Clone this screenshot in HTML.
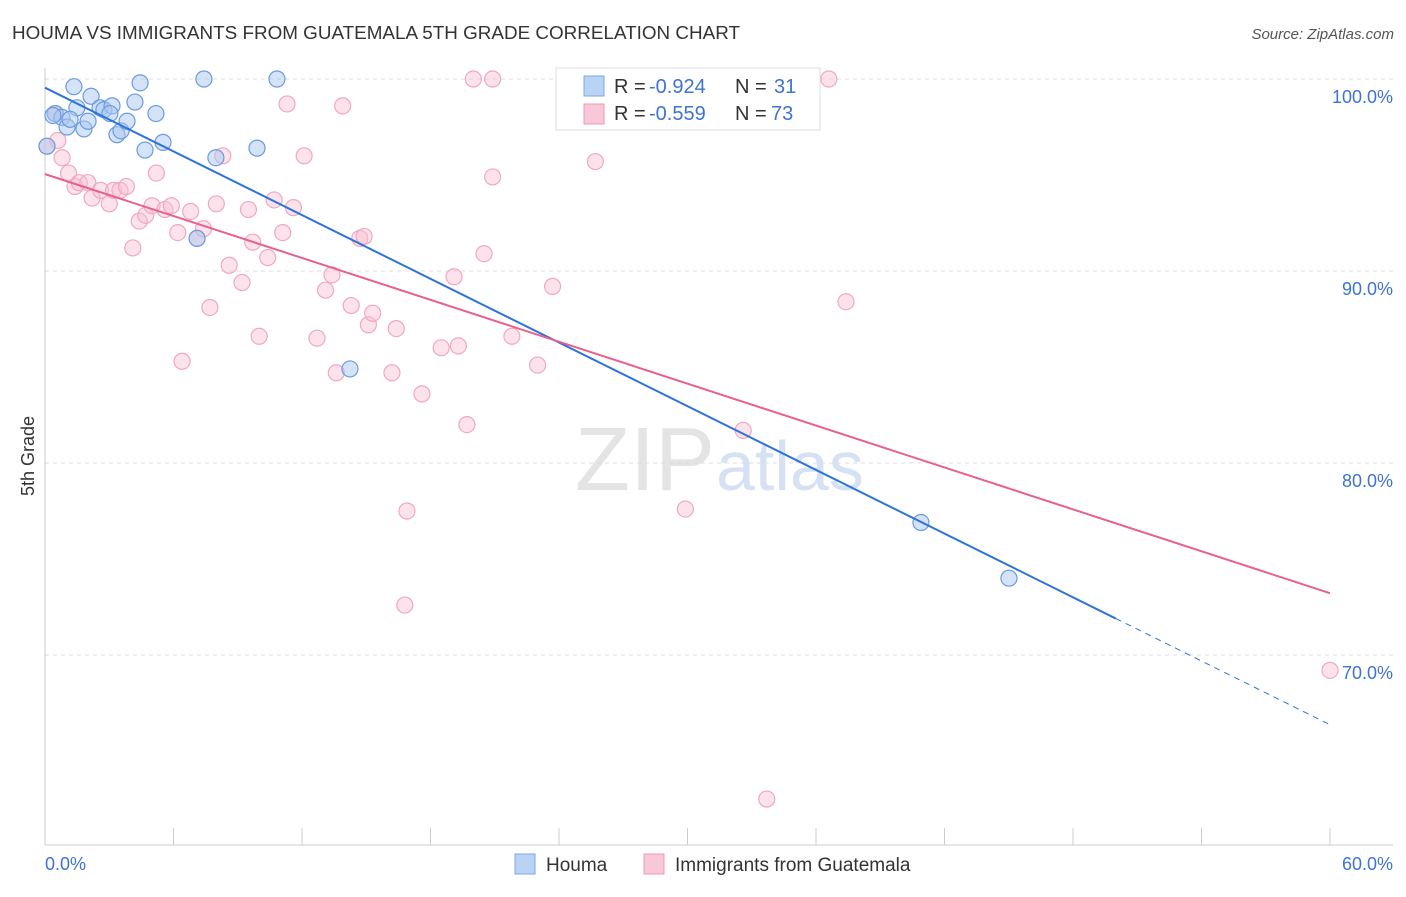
<!DOCTYPE html>
<html><head><meta charset="utf-8"><style>
body{margin:0;background:#fff;font-family:"Liberation Sans",sans-serif;}
svg text{font-family:"Liberation Sans",sans-serif;}
</style></head><body>
<svg width="1406" height="892">
<text x="12" y="39" font-size="18" fill="#333" textLength="728" lengthAdjust="spacingAndGlyphs">HOUMA VS IMMIGRANTS FROM GUATEMALA 5TH GRADE CORRELATION CHART</text>
<text x="1394" y="39" font-size="15" fill="#555" font-style="italic" text-anchor="end">Source: ZipAtlas.com</text>
<text x="715" y="490" font-size="90" fill="#e4e4e4" text-anchor="end" font-family="Liberation Serif">ZIP</text>
<text x="716" y="490" font-size="70" fill="#d6e2f3">atlas</text>
<g id="grid"></g><g id="axes"></g>
<text transform="translate(34,456) rotate(-90)" font-size="18" fill="#333" text-anchor="middle">5th Grade</text>
<g id="marks"></g>
<g>
<rect x="556" y="68" width="264" height="62" fill="#fff" stroke="#ddd"/>
<rect x="584" y="76" width="20" height="20" fill="#b9d3f5" stroke="#7aaae6"/>
<rect x="584" y="104" width="20" height="20" fill="#f9c8d8" stroke="#ee9ab5"/>
<text y="93" font-size="20" fill="#333"><tspan x="614">R =</tspan><tspan x="649" fill="#3d73d1">-0.924</tspan><tspan x="735">N =</tspan><tspan x="774" fill="#3d73d1">31</tspan></text>
<text y="120" font-size="20" fill="#333"><tspan x="614">R =</tspan><tspan x="649" fill="#3d73d1">-0.559</tspan><tspan x="735">N =</tspan><tspan x="771" fill="#3d73d1">73</tspan></text>
</g>
<g>
<rect x="515" y="854" width="20" height="20" fill="#b9d3f5" stroke="#7aaae6"/>
<text x="546" y="871" font-size="19" fill="#333">Houma</text>
<rect x="644" y="854" width="20" height="20" fill="#f9c8d8" stroke="#ee9ab5"/>
<text x="675" y="871" font-size="19" fill="#333">Immigrants from Guatemala</text>
</g>
</svg>
<script>
const xTicks=[0,60];
const yTicks=[100,90,80,70];
const houmaX=[0.09,0.47,0.79,1.03,1.35,1.49,1.82,2.01,2.15,2.57,2.75,3.13,3.03,3.36,3.55,3.83,4.20,4.44,4.67,5.18,5.51,7.42,7.98,9.90,10.83,7.10,14.24,40.90,45.01,0.37,1.17];
const houmaY=[96.5,98.2,98.0,97.5,99.6,98.5,97.4,97.8,99.1,98.5,98.4,98.6,98.2,97.1,97.3,97.8,98.8,99.8,96.3,98.2,96.7,100,95.9,96.4,100,91.7,84.9,76.9,74.0,98.1,97.9];
const guatX=[0.1,0.5,0.6,0.8,1.1,1.4,1.6,2.0,2.2,2.6,3.0,3.2,3.5,3.8,4.1,4.4,4.7,5.0,5.2,5.6,5.9,6.2,6.4,6.8,7.1,7.4,7.7,8.0,8.3,8.6,9.2,9.5,9.7,10.0,10.4,10.7,11.1,11.3,11.6,12.1,12.7,13.1,13.4,13.6,13.9,14.3,14.7,14.9,15.1,15.3,16.2,16.4,16.8,16.9,17.6,18.5,19.1,19.3,19.7,20.0,20.5,20.9,20.9,21.8,23.0,23.7,25.7,29.9,32.6,33.7,36.6,37.4,60.0];
const guatY=[96.5,98.2,96.8,95.9,95.1,94.4,94.6,94.6,93.8,94.2,93.5,94.2,94.2,94.4,91.2,92.6,92.9,93.4,95.1,93.2,93.4,92.0,85.3,93.1,91.7,92.2,88.1,93.5,96.0,90.3,89.4,93.2,91.5,86.6,90.7,93.7,92.0,98.7,93.3,96.0,86.5,89.0,89.8,84.7,98.6,88.2,91.7,91.8,87.2,87.8,84.7,87.0,72.6,77.5,83.6,86.0,89.7,86.1,82.0,100,90.9,94.9,100,86.6,85.1,89.2,95.7,77.6,81.7,62.5,100,88.4,69.2];
const X0=45,X1=1330,Y100=79,PXP=19.2;
const sx=v=>X0+(X1-X0)*v/60, sy=v=>Y100+(100-v)*PXP;
const NS='http://www.w3.org/2000/svg';
function mk(t,a,p){const e=document.createElementNS(NS,t);for(const k in a)e.setAttribute(k,a[k]);document.getElementById(p).appendChild(e);return e;}
yTicks.forEach(v=>{
 const l=mk('line',{x1:X0,x2:1393,y1:sy(v),y2:sy(v),stroke:'#ddd','stroke-dasharray':'4,4'},'grid');
 
 
 const t=mk('text',{x:1393,y:sy(v)+24,'font-size':18,fill:'#3d73d1','text-anchor':'end'},'axes');
 t.textContent=v.toFixed(1)+'%';
 
 
});
mk('line',{x1:X0,x2:X0,y1:68,y2:845,stroke:'#ccc'},'axes');
mk('line',{x1:X0,x2:1393,y1:845,y2:845,stroke:'#ccc'},'axes');
for(let i=0;i<=10;i++){mk('line',{x1:sx(i*6),x2:sx(i*6),y1:828,y2:845,stroke:'#ccc'},'axes');}
xTicks.forEach((v,i)=>{
 const t=mk('text',{x:i?1393:45,y:870,'font-size':18,fill:'#3d73d1','text-anchor':i?'end':'start'},'axes');
 t.textContent=v.toFixed(1)+'%';
 
 
});
guatX.forEach((x,i)=>{
 const c=mk('circle',{cx:sx(x),cy:sy(guatY[i]),r:8,fill:'rgba(249,190,210,0.45)',stroke:'#f0a8c0','stroke-width':1.2},'marks');
 
 
});
houmaX.forEach((x,i)=>{
 const c=mk('circle',{cx:sx(x),cy:sy(houmaY[i]),r:8,fill:'rgba(170,200,240,0.5)',stroke:'#6a9be0','stroke-width':1.2},'marks');
 
 
});
function fit(xs,ys){const n=xs.length,mx=xs.reduce((a,b)=>a+b)/n,my=ys.reduce((a,b)=>a+b)/n;let sxy=0,sxx=0;xs.forEach((x,i)=>{sxy+=(x-mx)*(ys[i]-my);sxx+=(x-mx)**2});const b=sxy/sxx;return [my-b*mx,b];}
const [ha,hb]=fit(houmaX,houmaY),[ga,gb]=fit(guatX,guatY);
let l=mk('line',{x1:sx(0),y1:sy(ha),x2:sx(50),y2:sy(ha+hb*50),stroke:'#2f73d8','stroke-width':2},'marks');


l=mk('line',{x1:sx(50),y1:sy(ha+hb*50),x2:sx(60),y2:sy(ha+hb*60),stroke:'#2f73d8','stroke-width':1,'stroke-dasharray':'6,5'},'marks');


l=mk('line',{x1:sx(0),y1:sy(ga),x2:sx(60),y2:sy(ga+gb*60),stroke:'#e8608e','stroke-width':2},'marks');


</script>
</body></html>
